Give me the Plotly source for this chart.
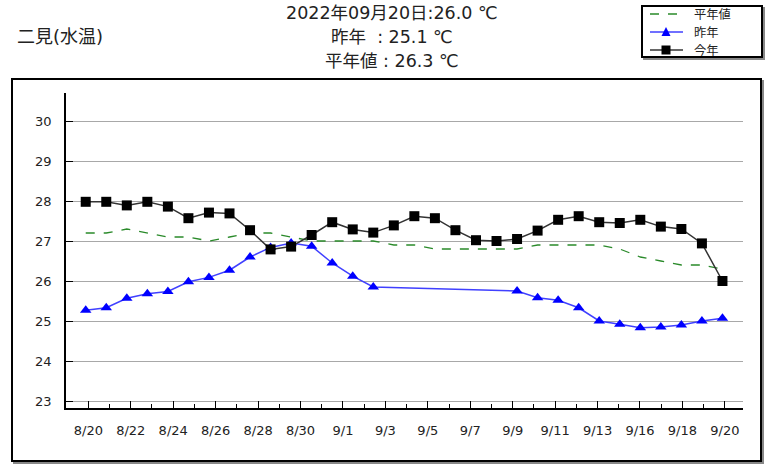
import plotly.graph_objects as go
from datetime import datetime, timedelta

# ---------------- data ----------------
dates = [
    "2022-08-20", "2022-08-21", "2022-08-22", "2022-08-23", "2022-08-24", "2022-08-25",
    "2022-08-26", "2022-08-27", "2022-08-28", "2022-08-29", "2022-08-30", "2022-08-31",
    "2022-09-01", "2022-09-02", "2022-09-03", "2022-09-04", "2022-09-05", "2022-09-06",
    "2022-09-07", "2022-09-08", "2022-09-09", "2022-09-10", "2022-09-11", "2022-09-12",
    "2022-09-13", "2022-09-14", "2022-09-15", "2022-09-16", "2022-09-17", "2022-09-18",
    "2022-09-19", "2022-09-20",
]

normal = [27.2, 27.2, 27.3, 27.2, 27.1, 27.1, 27.0, 27.1, 27.2, 27.2, 27.1, 27.0,
          27.0, 27.0, 27.0, 26.9, 26.9, 26.8, 26.8, 26.8, 26.8, 26.8, 26.9, 26.9,
          26.9, 26.9, 26.8, 26.6, 26.5, 26.4, 26.4, 26.3]

last_year = [25.27, 25.33, 25.57, 25.68, 25.74, 25.98, 26.09, 26.27, 26.60, 26.84, 26.95, 26.87,
             26.45, 26.12, 25.85, None, None, None, None, None, None, 25.75, 25.58, 25.52,
             25.33, 25.00, 24.92, 24.83, 24.85, 24.90, 25.00, 25.07]

this_year = [27.98, 27.98, 27.89, 27.98, 27.86, 27.57, 27.71, 27.69, 27.27, 26.79, 26.86, 27.15,
             27.47, 27.29, 27.21, 27.39, 27.62, 27.57, 27.27, 27.02, 27.00, 27.05, 27.26, 27.53,
             27.62, 27.47, 27.45, 27.53, 27.36, 27.30, 26.94, 26.00]

tick_labels = ["8/20", "8/22", "8/24", "8/26", "8/28", "8/30", "9/1", "9/3", "9/5",
               "9/7", "9/9", "9/11", "9/13", "9/16", "9/18", "9/20"]
y_ticks = [23, 24, 25, 26, 27, 28, 29, 30]

title_lines = ["2022年09月20日:26.0 ℃", "昨年\u00a0\u00a0: 25.1 ℃", "平年値 : 26.3 ℃"]
station = "二見(水温)"
series_names = ["平年値", "昨年", "今年"]

# ---------------- layout geometry (pixels) ----------------
W, H = 766, 468
L, R, T, B = 66, 743, 93, 408


def px(x):
    return (x - L) / (R - L)


def py(y):
    return (B - y) / (B - T)


t0 = datetime(2022, 8, 20)
x_range = [t0 + timedelta(days=-0.96), t0 + timedelta(days=32.0)]
major_step = 2.066
major_vals = [t0 + timedelta(days=0.127 + i * major_step) for i in range(len(tick_labels))]
minor_vals = [t0 + timedelta(days=0.127 + (i + 0.5) * major_step) for i in range(len(tick_labels) - 1)]

CJK = "Noto Sans CJK JP"
MIX = "DejaVu Sans, Noto Sans CJK JP"
TXT = "#222222"
GREEN, BLUE_L, BLUE_M, BLACK_L = "#2a8a2a", "#4040ff", "#0000ff", "#333333"

fig = go.Figure()
fig.add_trace(go.Scatter(
    x=dates, y=normal, name=series_names[0], mode="lines",
    line=dict(color=GREEN, width=1.3, dash="dash"),
))
fig.add_trace(go.Scatter(
    x=dates, y=last_year, name=series_names[1], mode="lines+markers", connectgaps=True,
    line=dict(color=BLUE_L, width=1.5),
    marker=dict(symbol="triangle-up", size=10, color=BLUE_M),
))
fig.add_trace(go.Scatter(
    x=dates, y=this_year, name=series_names[2], mode="lines+markers",
    line=dict(color=BLACK_L, width=1.5),
    marker=dict(symbol="square", size=10, color="#000000"),
))


def prect(x0, y0, x1, y1, **kw):
    return dict(type="rect", xref="paper", yref="paper",
                x0=px(x0), x1=px(x1), y0=py(y1), y1=py(y0), **kw)


def pline(x0, y0, x1, y1, **kw):
    return dict(type="line", xref="paper", yref="paper",
                x0=px(x0), x1=px(x1), y0=py(y0), y1=py(y1), **kw)


shapes = [
    # outer frame shadow + frame
    prect(14, 81, 763, 463, layer="below", line=dict(color="#888888", width=2)),
    prect(12, 79, 761, 461, layer="below", line=dict(color="#000000", width=2), fillcolor="white"),
    # legend box shadow + box
    prect(644, 8, 764, 59, line=dict(color="#888888", width=2)),
    prect(642, 6, 762, 57, line=dict(color="#000000", width=2), fillcolor="white"),
]

# legend symbols
leg_y = [14, 32, 50]
shapes.append(pline(650, leg_y[0], 683, leg_y[0], line=dict(color=GREEN, width=1.3, dash="dash")))
shapes.append(pline(650, leg_y[1], 683, leg_y[1], line=dict(color=BLUE_L, width=1.5)))
shapes.append(pline(650, leg_y[2], 683, leg_y[2], line=dict(color=BLACK_L, width=1.5)))
tri = "M {},{} L {},{} L {},{} Z".format(px(661.5), py(leg_y[1] + 4), px(670.5), py(leg_y[1] + 4),
                                         px(666), py(leg_y[1] - 5))
shapes.append(dict(type="path", xref="paper", yref="paper", path=tri,
                   fillcolor=BLUE_M, line=dict(color=BLUE_M, width=0)))
shapes.append(prect(661.5, leg_y[2] - 4.5, 670.5, leg_y[2] + 4.5, fillcolor="#000000",
                    line=dict(color="#000000", width=0)))

annotations = [
    dict(text=station, xref="paper", yref="paper", x=px(15), y=py(37),
         xanchor="left", yanchor="middle", showarrow=False,
         font=dict(family=MIX, size=18, color=TXT)),
]
title_y = [12.5, 37, 61]
for i, line in enumerate(title_lines):
    annotations.append(dict(
        text=line, xref="paper", yref="paper", x=px(392), y=py(title_y[i]),
        xanchor="center", yanchor="middle", showarrow=False,
        font=dict(family=MIX, size=17.5, color=TXT)))
for i, name in enumerate(series_names):
    annotations.append(dict(
        text=name, xref="paper", yref="paper", x=px(692), y=py(leg_y[i]),
        xanchor="left", yanchor="middle", showarrow=False,
        font=dict(family=CJK, size=12.3, color=TXT)))

fig.update_layout(
    width=W, height=H, autosize=False,
    margin=dict(l=L, r=W - R, t=T, b=H - B, pad=0),
    paper_bgcolor="white", plot_bgcolor="rgba(0,0,0,0)",
    font=dict(family="DejaVu Sans", size=13, color=TXT),
    showlegend=False,
    shapes=shapes,
    annotations=annotations,
    xaxis=dict(
        type="date", range=x_range,
        tickmode="array", tickvals=major_vals, ticktext=tick_labels,
        ticks="inside", ticklen=7, tickcolor="#000000", tickwidth=1,
        minor=dict(tickmode="array", tickvals=minor_vals, ticks="inside",
                   ticklen=4, tickcolor="#000000", tickwidth=1, showgrid=False),
        showgrid=False, zeroline=False,
        showline=True, linecolor="#000000", linewidth=1.5,
        ticklabelstandoff=10,
        tickfont=dict(family="DejaVu Sans", size=13, color=TXT),
    ),
    yaxis=dict(
        range=[22.825, 30.7],
        tickmode="array", tickvals=y_ticks,
        ticks="inside", ticklen=7, tickcolor="#000000", tickwidth=1,
        showgrid=True, gridcolor="#a8a8a8", gridwidth=1,
        zeroline=False,
        showline=True, linecolor="#000000", linewidth=1.5,
        ticklabelstandoff=10,
        tickfont=dict(family="DejaVu Sans", size=13, color=TXT),
    ),
)

fig.write_html("out.html", config={"displayModeBar": False},
               post_script="document.body.style.margin='0';document.body.style.padding='0';")
